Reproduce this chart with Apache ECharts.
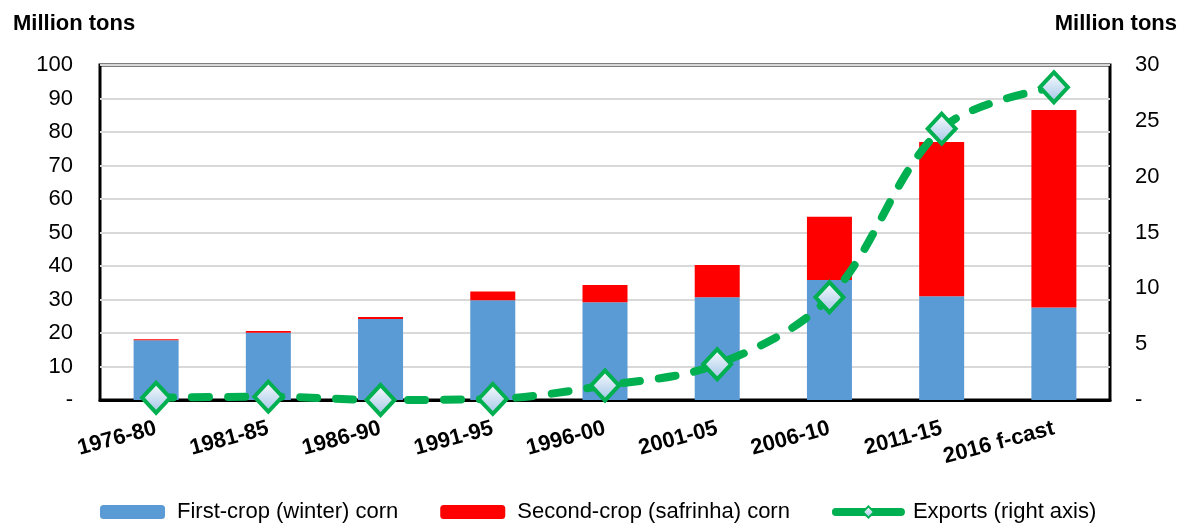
<!DOCTYPE html>
<html><head><meta charset="utf-8">
<script src="https://cdn.jsdelivr.net/npm/echarts@6/dist/echarts.min.js"></script>
<style>html,body{margin:0;padding:0;background:#fff}#c{width:1184px;height:523px}</style>
</head><body><div id="c"></div>
<script>
const categories = ['1976-80','1981-85','1986-90','1991-95','1996-00','2001-05','2006-10','2011-15','2016 f-cast'];
const firstCrop = [17.8, 20.1, 24.2, 29.8, 29.2, 30.7, 35.8, 31.0, 27.6];
const secondCrop = [0.3, 0.5, 0.6, 2.6, 5.1, 9.6, 18.9, 46.0, 59.0];
const exportsData = [0.2, 0.3, 0.0, 0.1, 1.3, 3.2, 9.2, 24.3, 28.0];
const leftTicks = [0, 100, 10];
const rightTicks = [0, 30, 5];

const chart = echarts.init(document.getElementById('c'), null, {renderer:'canvas'});
const font = 'Liberation Sans, Arial, sans-serif';
const green = '#00B050';
chart.setOption({
  animation:false,
  textStyle:{fontFamily:font},
  title:[
    {text:'Million tons', left:8, top:8, textStyle:{fontSize:22, fontWeight:'bold', color:'#000', fontFamily:font}},
    {text:'Million tons', right:2, top:8, textStyle:{fontSize:22, fontWeight:'bold', color:'#000', fontFamily:font}}
  ],
  grid:{left:100, right:74, top:65, bottom:123, show:true, borderColor:'#000', borderWidth:3, backgroundColor:'transparent'},
  legend:{
    left:95, top:496, itemWidth:65, itemHeight:14, itemGap:42,
    textStyle:{fontSize:22, color:'#000', fontFamily:font, padding:[0,0,0,7]},
    data:['First-crop (winter) corn','Second-crop (safrinha) corn',
      {name:'Exports (right axis)', lineStyle:{width:8, type:'solid', cap:'round', color:green}}]
  },
  xAxis:{
    type:'category', data:categories,
    axisLine:{show:true, lineStyle:{color:'#000', width:3}},
    axisTick:{show:false},
    axisLabel:{rotate:15, fontSize:22, fontWeight:'bold', color:'#000', margin:28, interval:0, fontFamily:font}
  },
  yAxis:[
    {type:'value', min:leftTicks[0], max:leftTicks[1], interval:leftTicks[2],
     axisLine:{show:false}, axisTick:{show:false},
     splitLine:{lineStyle:{color:'#d9d9d9', width:2}},
     axisLabel:{fontSize:22, color:'#000', margin:27, fontFamily:font, formatter:v=>v===0?'-':String(v)}},
    {type:'value', min:rightTicks[0], max:rightTicks[1], interval:rightTicks[2],
     axisLine:{show:false}, axisTick:{show:false}, splitLine:{show:false},
     axisLabel:{fontSize:22, color:'#000', margin:25, fontFamily:font, formatter:v=>v===0?'-':String(v)}}
  ],
  series:[
    {name:'First-crop (winter) corn', type:'bar', stack:'c', data:firstCrop, barWidth:45,
     itemStyle:{color:'#5B9BD5'}},
    {name:'Second-crop (safrinha) corn', type:'bar', stack:'c', data:secondCrop, barWidth:45,
     itemStyle:{color:'#FF0000'}},
    {name:'Exports (right axis)', type:'line', yAxisIndex:1, data:exportsData, smooth:0.35,
     symbol:'diamond', symbolSize:[28,30], z:5,
     lineStyle:{color:green, width:8, type:[17,19], cap:'round'},
     itemStyle:{color:new echarts.graphic.LinearGradient(0,0,0,1,[{offset:0,color:'#ffffff'},{offset:1,color:'#9DC3E6'}]), borderColor:green, borderWidth:4}}
  ]
});
</script></body></html>
